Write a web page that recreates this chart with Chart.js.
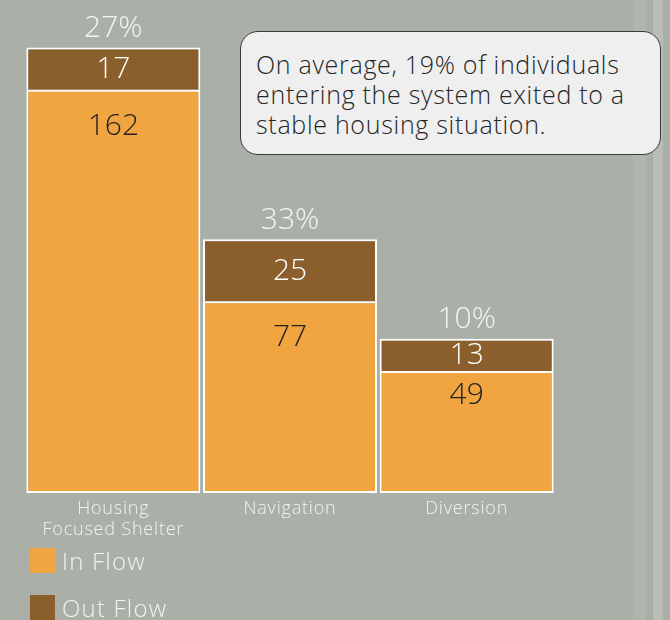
<!DOCTYPE html>
<html>
<head>
<meta charset="utf-8">
<script src="https://cdn.jsdelivr.net/npm/chart.js@4"></script>
<style>
    html, body {margin: 0; padding: 0;}
    body {
        width: 670px;
        height: 620px;
        overflow: hidden;
        position: relative;
        font-family: "Open Sans", Lato, sans-serif;
        font-weight: 300;
        background: linear-gradient(to right,
            #aab0a8 0, #aab0a8 633px,
            #b0b6ae 633px, #b0b6ae 646px,
            #a9afa7 646px, #a9afa7 653px,
            #b8bdb6 653px, #b8bdb6 663px,
            #aab0a8 663px);
    }
    #wrap {position: absolute; left: 0; top: 0; width: 670px; height: 620px;}
    .note {
        position: absolute;
        left: 240px; top: 31px;
        width: 421px; height: 124px;
        box-sizing: border-box;
        padding: 17px 0 0 15px;
        background: #efefef;
        border: 1px solid #3a3a3a;
        border-radius: 18px;
        color: #262626;
        font-size: 25px;
        letter-spacing: 0.7px;
        line-height: 30px;
    }
    #legend {position: absolute; left: 30px; top: 547px;}
    .item {display: flex; align-items: center; height: 26px; margin-bottom: 21px; color: #f2f2f2; font-size: 24px; letter-spacing: 1.2px;}
    .swatch {width: 25px; height: 25px; margin-right: 7px;}
</style>
</head>
<body>
<div id="wrap"><canvas id="fluxoChart"></canvas></div>
<div class="note">On average, 19% of individuals<br>entering the system exited to a<br>stable housing situation.</div>
<div id="legend"></div>
<script>
const categorias = [['Housing', 'Focused Shelter'], 'Navigation', 'Diversion'];
const entradas = [162, 77, 49];
const saidas = [17, 25, 13];
const percentuais = ['27%', '33%', '10%'];

const corEntrada = '#f0a541';
const corSaida = '#8b5f2c';

// wider tracking for the axis labels; Chart.js keeps it through its own save/restore
const espacamento = {
    id: 'espacamento',
    beforeDraw(chart) {
        chart.ctx.letterSpacing = '0.8px';
    }
};

// numbers inside the segments and the percentage above each bar
const rotulos = {
    id: 'rotulos',
    afterDatasetsDraw(chart) {
        const ctx = chart.ctx;
        ctx.save();
        ctx.letterSpacing = '0px';
        ctx.font = '300 30px "Open Sans", Lato, sans-serif';
        ctx.textAlign = 'center';
        ctx.textBaseline = 'middle';

        const barrasEntrada = chart.getDatasetMeta(0).data;
        const barrasSaida = chart.getDatasetMeta(1).data;

        barrasEntrada.forEach((bar, i) => {
            const h = bar.base - bar.y;
            ctx.fillStyle = '#222222';
            ctx.fillText(String(entradas[i]), bar.x, bar.y + 2 + Math.min(35, h * 0.18));
        });

        barrasSaida.forEach((bar, i) => {
            ctx.fillStyle = '#ffffff';
            ctx.fillText(String(saidas[i]), bar.x, (bar.y + bar.base) / 2 + 1);
            ctx.fillStyle = '#f4f4f4';
            ctx.fillText(percentuais[i], bar.x, bar.y - 19);
        });
        ctx.restore();
    }
};

const grafico = new Chart(document.getElementById('fluxoChart').getContext('2d'), {
    type: 'bar',
    data: {
        labels: categorias,
        datasets: [
            {
                label: 'In Flow',
                data: entradas,
                backgroundColor: corEntrada,
                borderColor: '#ffffff',
                borderWidth: {top: 2, left: 2, right: 2, bottom: 2},
                borderSkipped: false
            },
            {
                label: 'Out Flow',
                data: saidas,
                backgroundColor: corSaida,
                borderColor: '#ffffff',
                borderWidth: {top: 2, left: 2, right: 2, bottom: 0},
                borderSkipped: false
            }
        ]
    },
    options: {
        responsive: true,
        maintainAspectRatio: false,
        animation: false,
        barPercentage: 0.985,
        categoryPercentage: 1,
        layout: {padding: {left: 25, right: 115, top: 45, bottom: 0}},
        scales: {
            x: {
                stacked: true,
                grid: {display: false},
                border: {display: false},
                ticks: {
                    color: '#f2f2f2',
                    padding: -2,
                    font: {family: '"Open Sans", Lato, sans-serif', size: 18, weight: 300, lineHeight: 1.15}
                },
                afterFit: s => { s.height = 127; }
            },
            y: {
                stacked: true,
                display: false,
                min: 0,
                max: 180
            }
        },
        plugins: {
            legend: {display: false},
            tooltip: {enabled: false}
        }
    },
    plugins: [espacamento, rotulos]
});

// legend stacked vertically below the chart
const legenda = document.getElementById('legend');
grafico.data.datasets.forEach(ds => {
    const item = document.createElement('div');
    item.className = 'item';
    item.innerHTML = '<span class="swatch" style="background:' + ds.backgroundColor + '"></span>' + ds.label;
    legenda.appendChild(item);
});
</script>
</body>
</html>
